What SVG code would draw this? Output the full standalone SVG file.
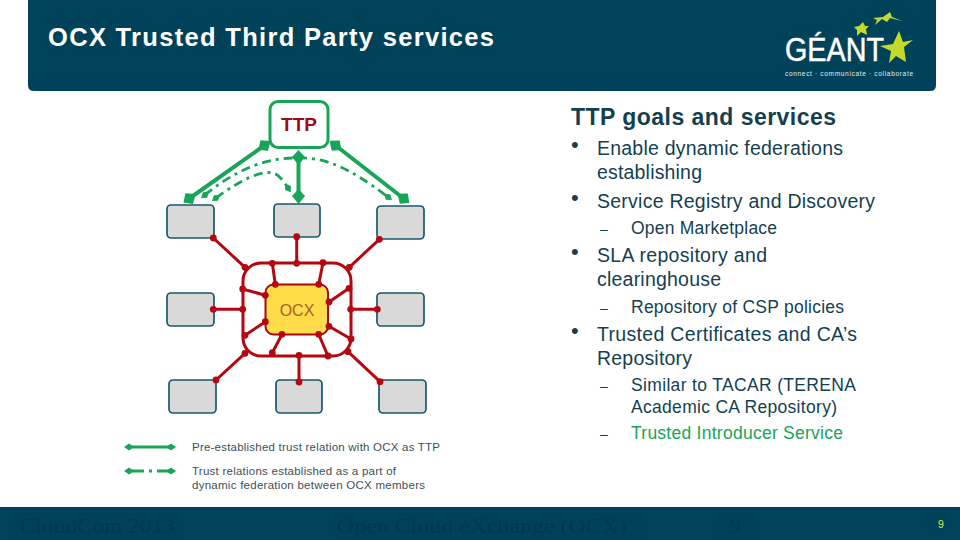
<svg xmlns="http://www.w3.org/2000/svg" width="960" height="540" viewBox="0 0 960 540">
<style>
text{font-family:"Liberation Sans",Arial,sans-serif}
.band{fill:#004259}
.box{fill:#d9d9d9;stroke:#17586e;stroke-width:1.7}
.red{stroke:#b5070f;stroke-width:3;fill:none}
.dot{fill:#b5070f}
.gs{stroke:#18a558;stroke-width:4;fill:none;marker-start:url(#dm);marker-end:url(#dm)}
.gd{stroke:#18a558;stroke-width:2.800;fill:none;stroke-dasharray:9 5 3 5;marker-start:url(#ds);marker-end:url(#ds)}
.lg{stroke:#18a558;stroke-width:3;fill:none}
.b1{font-size:19.500px;fill:#143f50}
.b2{font-size:17.500px;fill:#143f50}
.bul{font-size:22px;fill:#143f50}
.dash{font-size:14px;fill:#143f50}
.leg{font-size:11.500px;fill:#3d4f58}
.foot{font-size:22px;fill:#04384d;font-family:"Liberation Serif",serif}
</style>
<defs>
<marker id="dm" markerUnits="userSpaceOnUse" markerWidth="16" markerHeight="16" refX="8" refY="8" orient="auto"><path d="M0 8L7 1.500L15 8L7 14.500Z" fill="#18a558"/></marker>
<marker id="ds" markerUnits="userSpaceOnUse" markerWidth="10" markerHeight="10" refX="5" refY="5" orient="auto"><path d="M0 5L5 1.500L10 5L5 8.500Z" fill="#18a558"/></marker>
</defs>
<path id="header" class="band" d="M28 0H936V85Q936 91 930 91H34Q28 91 28 85Z"/>
<rect id="footer" class="band" x="0" y="507" width="960" height="33"/>
<text x="48" y="46" font-size="25.500" font-weight="700" fill="#fff" textLength="446">OCX Trusted Third Party services</text>
<g id="logo">
<text x="785" y="61" font-size="33" fill="#fff" textLength="99" lengthAdjust="spacingAndGlyphs" stroke="#fff" stroke-width=".5">GÉANT</text>
<text x="785" y="75.500" font-size="6.500" fill="#e6eef0" textLength="128">connect · communicate · collaborate</text>
<polygon fill="#c5d92d" points="899,31 903,42 913,40 904,47 906,62 896,56 889,63 891,51 880,46 893,44"/>
<polygon fill="#c5d92d" points="863,22 865,26 869,26 866,29 867,35 861,32 857,36 857,30 854,27 859,26"/>
<polygon fill="#c5d92d" points="873,18 883,17 890,12 892,17 902,21 890,18 887,22 882,19 875,25 877,20"/>
</g>
<rect id="frame" class="red" x="243" y="263" width="108" height="93" rx="18"/>
<g id="connectors">
<g class="red-links">
<path class="red" d="M213.300 238L245 267.300M296.700 236.700V263.300M379.300 239.300L349.300 267.300M213.300 309.300H242.700M377.300 309.300H350.700M216 380L245 353.300M299 382V355.300M380 381.700L348 351.700M272.300 263.300L275.300 284.300M323 262.700L318.700 284.300M242.700 289L265.300 295.300M349 288.300L329 302M245 335.300L265.300 321.700M351 339L329 326.300M272.300 352.700L282 334.300M328 356L318.700 334.300"/>
</g>
<path class="gs" d="M190 198L265 145"/>
<path class="gs" d="M403 198L335 145"/>
<path class="gs" d="M298.500 158V197"/>
<path class="gd" d="M205 195C228 176 260 157 298 158"/>
<path class="gd" d="M298 158C325 157 350 168 388 197"/>
<path class="gd" d="M216 198C240 180 260 171 272 172.700C279 174 284 182 288 188"/>
<path class="lg" d="M129 447H171" marker-start="url(#ds)" marker-end="url(#ds)"/>
<path class="lg" d="M129 471H171" stroke-dasharray="15 5 3 5 15" marker-start="url(#ds)" marker-end="url(#ds)"/>
</g>
<g id="ttp"><rect x="270" y="101.500" width="58" height="46" rx="8" fill="#fff" stroke="#18a558" stroke-width="3"/><text x="299" y="131" font-size="19" font-weight="700" fill="#a00a10" text-anchor="middle">TTP</text></g>
<g id="ocx"><rect x="265.500" y="284.500" width="62.500" height="50" rx="8" fill="#ffdc4a" stroke="#a8070f" stroke-width="2"/><text x="297" y="316" font-size="16" fill="#a8602a" text-anchor="middle">OCX</text></g>
<g id="n1"><rect class="box" x="167" y="205" width="47" height="33" rx="4"/></g>
<g id="n2"><rect class="box" x="274" y="204" width="46" height="33" rx="4"/></g>
<g id="n3"><rect class="box" x="377" y="206" width="47" height="33" rx="4"/></g>
<g id="n4"><rect class="box" x="167" y="293" width="47" height="33" rx="4"/></g>
<g id="n5"><rect class="box" x="377" y="293" width="47" height="33" rx="4"/></g>
<g id="n6"><rect class="box" x="169" y="380" width="47" height="33" rx="4"/></g>
<g id="n7"><rect class="box" x="276" y="380" width="46" height="33" rx="4"/></g>
<g id="n8"><rect class="box" x="379" y="380" width="47" height="33" rx="4"/></g>
<g id="red-dots" class="dot">
<circle cx="213.300" cy="238" r="3.400"/><circle cx="245" cy="267.300" r="3.400"/><circle cx="296.700" cy="236.700" r="3.400"/><circle cx="296.700" cy="263.300" r="3.400"/><circle cx="379.300" cy="239.300" r="3.400"/><circle cx="349.300" cy="267.300" r="3.400"/><circle cx="213.300" cy="309.300" r="3.400"/><circle cx="242.700" cy="309.300" r="3.400"/><circle cx="377.300" cy="309.300" r="3.400"/><circle cx="350.700" cy="309.300" r="3.400"/><circle cx="216" cy="380" r="3.400"/><circle cx="245" cy="353.300" r="3.400"/><circle cx="299" cy="382" r="3.400"/><circle cx="299" cy="355.300" r="3.400"/><circle cx="380" cy="381.700" r="3.400"/><circle cx="348" cy="351.700" r="3.400"/><circle cx="272.300" cy="263.300" r="3.400"/><circle cx="275.300" cy="284.300" r="3.400"/><circle cx="323" cy="262.700" r="3.400"/><circle cx="318.700" cy="284.300" r="3.400"/><circle cx="242.700" cy="289" r="3.400"/><circle cx="265.300" cy="295.300" r="3.400"/><circle cx="349" cy="288.300" r="3.400"/><circle cx="329" cy="302" r="3.400"/><circle cx="245" cy="335.300" r="3.400"/><circle cx="265.300" cy="321.700" r="3.400"/><circle cx="351" cy="339" r="3.400"/><circle cx="329" cy="326.300" r="3.400"/><circle cx="272.300" cy="352.700" r="3.400"/><circle cx="282" cy="334.300" r="3.400"/><circle cx="328" cy="356" r="3.400"/><circle cx="318.700" cy="334.300" r="3.400"/>
</g>
<g id="legend">
<text class="leg" x="192" y="451" textLength="248">Pre-established trust relation with OCX as TTP</text>
<text class="leg" x="192" y="475" textLength="204">Trust relations established as a part of</text>
<text class="leg" x="192" y="489" textLength="233">dynamic federation between OCX members</text>
</g>
<g id="bullets">
<text x="571" y="125" font-size="23" font-weight="700" fill="#143f50" textLength="265">TTP goals and services</text>
<text class="bul" x="571" y="152">•</text>
<text class="b1" x="597" y="155" textLength="246">Enable dynamic federations</text>
<text class="b1" x="597" y="179" textLength="105">establishing</text>
<text class="bul" x="571" y="205">•</text>
<text class="b1" x="597" y="208" textLength="278">Service Registry and Discovery</text>
<text class="dash" x="604" y="234" text-anchor="middle">–</text>
<text class="b2" x="631" y="234" textLength="146">Open Marketplace</text>
<text class="bul" x="571" y="259">•</text>
<text class="b1" x="597" y="262" textLength="170">SLA repository and</text>
<text class="b1" x="597" y="286" textLength="124">clearinghouse</text>
<text class="dash" x="604" y="313" text-anchor="middle">–</text>
<text class="b2" x="631" y="313" textLength="213">Repository of CSP policies</text>
<text class="bul" x="571" y="338">•</text>
<text class="b1" x="597" y="341" textLength="260">Trusted Certificates and CA’s</text>
<text class="b1" x="597" y="365" textLength="95">Repository</text>
<text class="dash" x="604" y="391" text-anchor="middle">–</text>
<text class="b2" x="631" y="391" textLength="225">Similar to TACAR (TERENA</text>
<text class="b2" x="631" y="413" textLength="206">Academic CA Repository)</text>
<text class="dash" x="604" y="439" text-anchor="middle">–</text>
<text class="b2" x="631" y="439" style="fill:#18a558" textLength="212">Trusted Introducer Service</text>
</g>
<g id="footer-text">
<text class="foot" x="20" y="533" textLength="155" lengthAdjust="spacingAndGlyphs">CloudCom 2013</text>
<text class="foot" x="337" y="533" textLength="290" lengthAdjust="spacingAndGlyphs">Open Cloud eXchange (OCX)</text>
<text class="foot" x="730" y="533">9</text>
<text x="938" y="528" font-size="10.500" fill="#d4ef5a">9</text>
</g>
</svg>
